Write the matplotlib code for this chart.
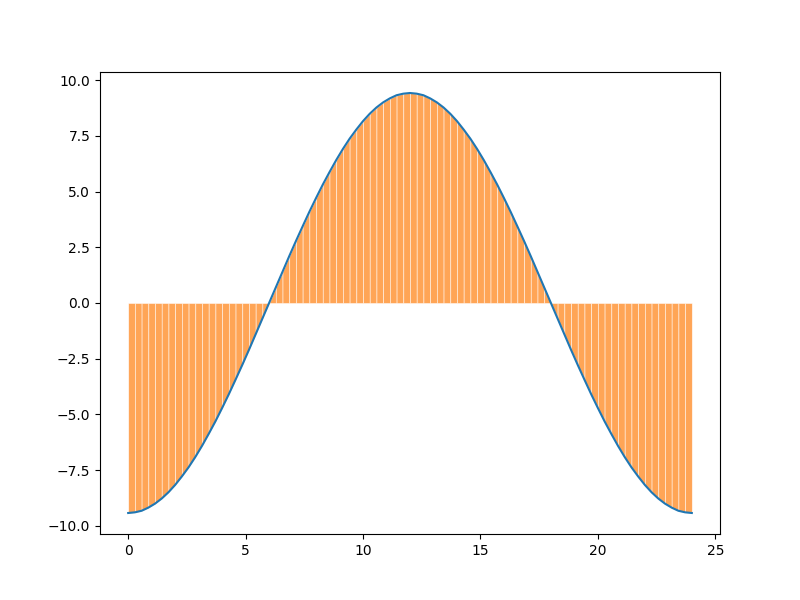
import numpy as np
import matplotlib.pyplot as plt

# values, 85 samples from x=0 to x=24
half = [-9.42, -9.39, -9.32, -9.18, -9.00, -8.77, -8.49, -8.16, -7.78, -7.37,
        -6.91, -6.41, -5.87, -5.31, -4.71, -4.09, -3.44, -2.78, -2.10, -1.40,
        -0.70, 0.00, 0.70, 1.40, 2.10, 2.78, 3.44, 4.09, 4.71, 5.31,
        5.87, 6.41, 6.91, 7.37, 7.78, 8.16, 8.49, 8.77, 9.00, 9.18,
        9.32, 9.39, 9.42]
y_vals = np.array(half + half[-2::-1])
x_vals = np.linspace(0, 24, len(y_vals))

fig, ax = plt.subplots(figsize=(8, 6), dpi=100)
# one filled strip per segment, thin light seams between them
for i in range(len(x_vals) - 1):
    ax.fill_between(x_vals[i:i + 2], y_vals[i:i + 2], facecolor='C1',
                    edgecolor='white', alpha=0.7, linewidth=0.5)
ax.plot(x_vals, y_vals, color='C0')
fig.savefig('out.png')
